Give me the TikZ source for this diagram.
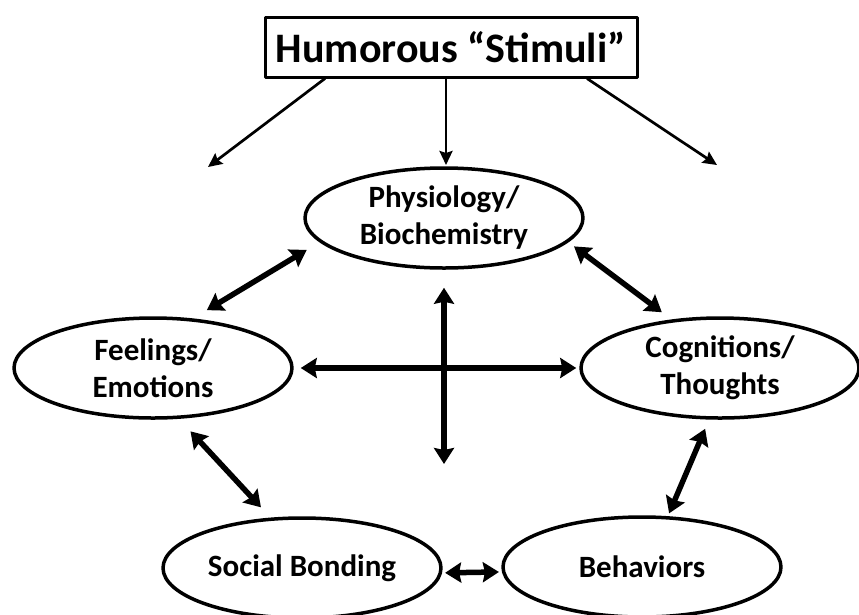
\documentclass[tikz,border=0pt]{standalone}
\usepackage{fontspec}
\setmainfont{Carlito}
\usetikzlibrary{arrows.meta,shapes.geometric}

\begin{document}
\begin{tikzpicture}[x=1pt, y=-1pt, line join=round,
		head/.style={draw, line width=3pt, minimum width=372pt, minimum height=60pt, inner sep=0pt, font=\fontsize{42}{50}\selectfont\bfseries},
		bubble/.style={draw, ellipse, line width=3.5pt, minimum width=278pt, minimum height=100pt, inner sep=0pt, align=center, font=\fontsize{31}{37}\selectfont\bfseries},
		feed/.style={line width=2.7pt, -{Stealth[length=14pt,width=13pt,inset=2pt]}},
		link/.style={line width=5.5pt, {Stealth[length=16pt,width=20pt,inset=2pt]}-{Stealth[length=16pt,width=20pt,inset=2pt]}}]
			\useasboundingbox (0,0) rectangle (859,614);
			% boxes
			\node[head] (stim) at (451,47) {Humorous “Stimuli”};
			\node[bubble] (phys) at (444,218) {Physiology/\\Biochemistry};
			\node[bubble] (feel) at (153,368) {Feelings/\\Emotions};
			\node[bubble] (cogn) at (720,368) {Cognitions/\\Thoughts};
			\node[bubble] (soc) at (302,568) {Social Bonding};
			\node[bubble] (beh) at (642,567) {Behaviors};
			% free arrow ends
			\coordinate (tl) at (208,167);
			\coordinate (tc) at (446,165);
			\coordinate (tr) at (717,165);
			\coordinate (vend) at (444,464);
			% stimulus arrows
			\draw[feed] ([xshift=-126pt]stim.south) -- (tl);
			\draw[feed] ([xshift=-5pt]stim.south) -- (tc);
			\draw[feed] ([xshift=136pt]stim.south) -- (tr);
			% two-way links
			\draw[link, shorten <=16pt, shorten >=15pt] (feel.51) -- (phys.191);
			\draw[link, shorten <=7pt, shorten >=12pt] (phys.349) -- (cogn.135);
			\draw[link, shorten <=7pt, shorten >=3pt] (feel.east) -- (cogn.west);
			\draw[link, shorten <=18pt] (phys.south) -- (vend);
			\draw[link, shorten <=17pt, shorten >=14pt] (feel.297) -- (soc.122);
			\draw[link, shorten <=10pt, shorten >=3pt] (cogn.258) -- (beh.63);
			\draw[link, shorten <=3pt, shorten >=3pt] (soc.-2) -- (beh.182);
		\end{tikzpicture}
\end{document}
